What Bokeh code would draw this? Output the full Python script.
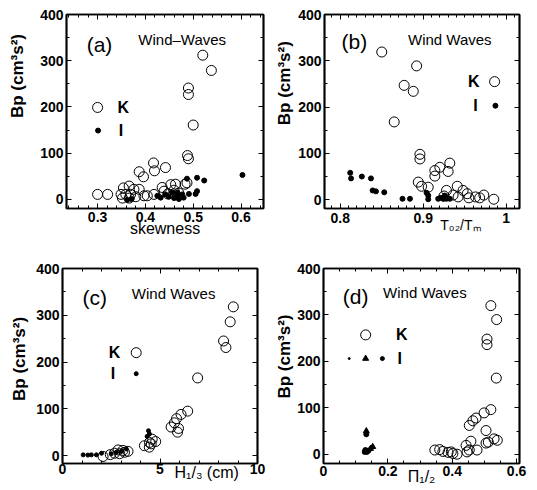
from bokeh.plotting import figure
from bokeh.layouts import column, row
from bokeh.models import Range1d, LinearAxis, FixedTicker, Label, CustomJSTickFormatter
from bokeh.embed import file_html
from bokeh.resources import INLINE

FONT = "Liberation Sans"
NB = "\u00a0"

# ---------------- data ----------------
# panel (a): Bp vs skewness
a_K_x = [0.520, 0.538, 0.490, 0.490, 0.500, 0.488, 0.490, 0.483, 0.387, 0.396, 0.417, 0.419,
         0.442, 0.300, 0.321, 0.354, 0.366, 0.376, 0.387, 0.349, 0.359, 0.369, 0.352, 0.366,
         0.380, 0.397, 0.404, 0.418, 0.435, 0.453, 0.463, 0.439, 0.460, 0.487, 0.447, 0.470]
a_K_y = [312, 279, 241, 227, 161, 95, 88, 33, 60, 49, 79, 62,
         69, 11, 11, 25, 29, 22, 22, 11, 11, 11, 3, 3,
         6, 8, 8, 11, 26, 32, 33, 18, 20, 36, 12, 14]
a_I_x = [0.603, 0.508, 0.523, 0.487, 0.508, 0.505, 0.362, 0.371, 0.425, 0.432, 0.442, 0.449,
         0.460, 0.467, 0.470, 0.477, 0.480, 0.491, 0.467, 0.456]
a_I_y = [53, 47, 41, 45, 18, 12, -1, 1, 8, 4, 11, 6,
         3, 8, 1, 11, 4, 12, 15, 15]

# panel (b): Bp vs T02/TM
b_K_x = [0.850, 0.892, 0.877, 0.888, 0.865, 0.896, 0.896, 0.914, 0.920, 0.932, 0.914, 0.930,
         0.894, 0.898, 0.906, 0.928, 0.941, 0.948, 0.953, 0.963, 0.973, 0.985, 0.936, 0.942,
         0.955, 0.968, 0.925]
b_K_y = [319, 289, 247, 234, 168, 98, 88, 63, 70, 79, 51, 61,
         38, 29, 27, 20, 29, 20, 13, 6, 10, 1, 10, 6,
         4, 4, 8]
b_I_x = [0.812, 0.813, 0.826, 0.837, 0.839, 0.843, 0.853, 0.875, 0.884, 0.906, 0.906, 0.904,
         0.918, 0.924, 0.928, 0.932, 0.926, 0.921]
b_I_y = [58, 46, 50, 46, 20, 18, 16, 2, 2, 9, 1, 15,
         2, 2, 2, 2, 9, 4]

# panel (c): Bp vs H1/3 (cm)
c_K_x = [8.76, 8.60, 8.26, 8.38, 6.93, 6.42, 6.08, 5.85, 5.74, 5.57, 5.90, 5.95,
         4.20, 4.45, 4.46, 4.60, 4.55, 4.78, 2.67, 2.93, 3.18, 3.36, 2.85, 3.10,
         2.45, 2.08]
c_K_y = [318, 286, 245, 231, 166, 95, 88, 79, 70, 61, 50, 58,
         21, 18, 28, 35, 25, 30, 5, 4, 7, 9, 12, 11,
         2, -2]
c_I_x = [1.06, 1.30, 1.48, 1.74, 2.00, 2.50, 2.76, 3.02, 3.27, 4.41, 4.46, 4.34]
c_I_y = [1.5, 1, 1.5, 1.5, 5, 4, 7, 9, 14, 53, 46, 41]

# panel (d): Bp vs Pi_1/2
d_K_x = [0.520, 0.538, 0.508, 0.508, 0.537, 0.520, 0.499, 0.453, 0.464, 0.474, 0.505, 0.530,
         0.512, 0.540, 0.443, 0.458, 0.453, 0.477, 0.446, 0.346, 0.361, 0.371, 0.387, 0.402,
         0.415, 0.397, 0.505]
d_K_y = [320, 290, 248, 236, 164, 96, 89, 62, 72, 78, 51, 33,
         26, 30, 19, 28, 9, 9, 5, 9, 10, 6, 4, 1.5,
         0, 5, 24]
d_Idot_x = [0.133, 0.130, 0.135, 0.128, 0.140]
d_Idot_y = [43, 9, 5, 5, 8]
d_Itri_x = [0.133, 0.146, 0.153]
d_Itri_y = [50, 12, 16]

# axis ticks / labels
y_ticks = [0, 100, 200, 300, 400]
y_labels = ["0", "100", "200", "300", "400"]
a_x_ticks = [0.3, 0.4, 0.5, 0.6]
a_x_labels = ["0.3", "0.4", "0.5", "0.6"]
b_x_ticks = [0.8, 0.9, 1.0]
b_x_labels = ["0.8", "0.9", "1"]
c_x_ticks = [0, 5, 10]
c_x_labels = ["0", "5", "10"]
d_x_ticks = [0, 0.2, 0.4, 0.6]
d_x_labels = ["0", "0.2", "0.4", "0.6"]

YLAB = "Bp (cm\u00b3s\u00b2)"


def frange(start, stop, step):
    n = int(round((stop - start) / step))
    return [round(start + i * step, 6) for i in range(n + 1)]


def formatter(ticks, labels):
    return CustomJSTickFormatter(args=dict(tv=ticks, tl=labels), code="""
        for (let i = 0; i < tv.length; i++) {
            if (Math.abs(tv[i] - tick) < 1e-9) { return tl[i]; }
        }
        return "";
    """)


def style_axis(ax, ticks, minor, labels=None, standoff=3):
    ax.ticker = FixedTicker(ticks=ticks, minor_ticks=minor)
    ax.axis_line_color = "black"
    ax.axis_line_width = 1.7
    ax.major_tick_in = 5
    ax.major_tick_out = 0
    ax.minor_tick_in = 3
    ax.minor_tick_out = 0
    if labels is not None:
        ax.formatter = formatter(ticks, labels)
        ax.major_label_text_font = FONT
        ax.major_label_text_font_size = "14px"
        ax.major_label_text_font_style = "bold"
        ax.major_label_text_color = "black"
        ax.major_label_standoff = standoff
    else:
        ax.major_label_text_font_size = "0px"
        ax.major_label_standoff = 0


def make_panel(width, height, borders, xr, yr, xticks, xlabels, xminor,
               xlab, xlab_size, xlab_standoff, xtick_standoff,
               ylab_pad, ylab_standoff):
    left, right, top, bottom = borders
    p = figure(width=width, height=height, x_range=Range1d(*xr), y_range=Range1d(*yr),
               output_backend="svg", toolbar_location=None, title=None,
               x_axis_type=None, y_axis_type=None,
               min_border_left=left, min_border_right=right,
               min_border_top=top, min_border_bottom=bottom)
    # frame box drawn by the plot itself as well as by the four axes
    p.outline_line_color = "black"
    p.outline_line_width = 1.7
    p.outline_line_alpha = 1.0
    yminor = frange(0, 400, 50)

    bx = LinearAxis()
    style_axis(bx, xticks, xminor, xlabels, xtick_standoff)
    bx.axis_label = xlab
    bx.axis_label_text_font = FONT
    bx.axis_label_text_font_size = f"{xlab_size}px"
    bx.axis_label_text_font_style = "normal"
    bx.axis_label_text_color = "black"
    bx.axis_label_standoff = xlab_standoff
    p.add_layout(bx, "below")

    tx = LinearAxis()
    style_axis(tx, xticks, xminor)
    p.add_layout(tx, "above")

    ly = LinearAxis()
    style_axis(ly, y_ticks, yminor, y_labels, 3)
    ly.axis_label = NB * ylab_pad + YLAB
    ly.axis_label_text_font = FONT
    ly.axis_label_text_font_size = "17px"
    ly.axis_label_text_font_style = "bold"
    ly.axis_label_text_color = "black"
    ly.axis_label_standoff = ylab_standoff
    p.add_layout(ly, "left")

    ry = LinearAxis()
    style_axis(ry, y_ticks, yminor)
    p.add_layout(ry, "right")
    return p


def lab(p, x, y, text, size, bold=False):
    p.add_layout(Label(x=x, y=y, text=text, text_font=FONT, text_font_size=f"{size}px",
                       text_font_style="bold" if bold else "normal", text_color="black",
                       text_align="center", text_baseline="middle"))


def open_circles(p, xs, ys, size=10):
    p.scatter(xs, ys, size=size, fill_color=None, line_color="black")


def dots(p, xs, ys, size=5, marker="circle"):
    p.scatter(xs, ys, marker=marker, size=size, fill_color="black", line_color="black")


# ---------------- panel (a) ----------------
p1 = make_panel(272, 245, (66, 9, 7, 37), (0.235, 0.647), (-19.5, 400),
                a_x_ticks, a_x_labels, frange(0.24, 0.64, 0.02),
                "skewness", 16, -5, 3, 15, 10)
open_circles(p1, a_K_x, a_K_y)
dots(p1, a_I_x, a_I_y, 5)
open_circles(p1, [0.300], [199])
dots(p1, [0.301], [149], 5)
lab(p1, 0.304, 336, "(a)", 21)
lab(p1, 0.477, 345, "Wind\u2013Waves", 15)
lab(p1, 0.354, 199, "K", 16, True)
lab(p1, 0.349, 149, "I", 16, True)

# ---------------- panel (b) ----------------
p2 = make_panel(265, 245, (51, 18, 14, 35), (0.781, 1.016), (-19, 400),
                b_x_ticks, b_x_labels, frange(0.79, 1.01, 0.01),
                NB * 20 + "T\u2080\u2082/T\u2098", 14, -9, 4, 12, 1)
open_circles(p2, b_K_x, b_K_y)
dots(p2, b_I_x, b_I_y, 5)
open_circles(p2, [0.986], [255])
dots(p2, [0.987], [203], 5)
lab(p2, 0.817, 341, "(b)", 21)
lab(p2, 0.932, 346, "Wind Waves", 15)
lab(p2, 0.961, 255, "K", 16, True)
lab(p2, 0.963, 203, "I", 16, True)

# ---------------- panel (c) ----------------
p3 = make_panel(272, 245, (62, 15, 23, 27), (0, 10), (-17, 400),
                c_x_ticks, c_x_labels, frange(0, 10, 1),
                NB * 21 + "H\u2081/\u2083 (cm)", 16, -13, 0, 3, 4)
open_circles(p3, c_K_x, c_K_y)
dots(p3, c_I_x, c_I_y, 4)
open_circles(p3, [3.78], [220])
dots(p3, [3.78], [175], 4)
lab(p3, 1.65, 337, "(c)", 21)
lab(p3, 5.70, 346, "Wind Waves", 15)
lab(p3, 2.67, 220, "K", 16, True)
lab(p3, 2.59, 175, "I", 16, True)

# ---------------- panel (d) ----------------
p4 = make_panel(265, 245, (49, 18, 23, 25), (0, 0.609), (-20, 400),
                d_x_ticks, d_x_labels, frange(0, 0.6, 0.05),
                "\u03a0\u2081/\u2082", 16, -11, 2, 4, 0)
open_circles(p4, d_K_x, d_K_y)
dots(p4, d_Idot_x, d_Idot_y, 5)
dots(p4, d_Itri_x, d_Itri_y, 6, marker="triangle")
open_circles(p4, [0.131], [257])
dots(p4, [0.080], [206], 2)
dots(p4, [0.131], [206], 6, marker="triangle")
dots(p4, [0.183], [206], 4)
lab(p4, 0.100, 340, "(d)", 21)
lab(p4, 0.315, 348, "Wind Waves", 15)
lab(p4, 0.243, 257, "K", 16, True)
lab(p4, 0.237, 206, "I", 16, True)

layout = column(row(p1, p2), row(p3, p4))
open("out.html", "w").write(file_html(layout, INLINE))
